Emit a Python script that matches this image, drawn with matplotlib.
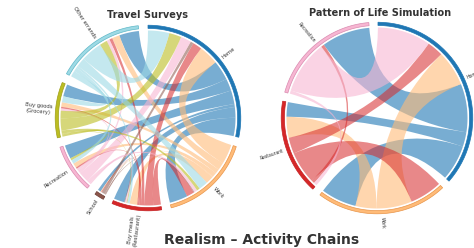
import numpy as np
import matplotlib.pyplot as plt
from matplotlib.path import Path
from matplotlib.patches import PathPatch, Polygon

# ---- Travel surveys (left) ----
ts_names = ['Home', 'Work', 'Buy meals\n(Restaurant)', 'School', 'Recreation',
            'Buy goods\n(Grocery)', 'Other errands']
ts_colors = ['#1f77b4', '#ffbb78', '#d62728', '#8c564b', '#f7b6d2', '#bcbd22', '#9edae5']
ts_edges = ['#1f77b4', '#e8954a', '#c42224', '#6e3f36', '#d98bb0', '#9fa01a', '#5fb8c8']
# flows[src][dst]
ts_flows = np.array([
    [0, 12, 7, 2, 9, 8, 13],
    [13, 0, 5, 0.5, 3, 3, 5],
    [6, 5, 0, 0.5, 1, 1, 2],
    [2, 0.5, 0.5, 0, 0, 0, 0],
    [7, 2, 1, 0, 0, 1.5, 2],
    [8, 2, 0.5, 0, 1.5, 0, 5],
    [14, 6, 1.5, 0, 2.5, 4, 0],
])

# ---- Pattern of life simulation (right) ----
pol_names = ['Home', 'Work', 'Restaurant', 'Recreation']
pol_colors = ['#1f77b4', '#ffbb78', '#d62728', '#f7b6d2']
pol_edges = ['#1f77b4', '#e8954a', '#c42224', '#d98bb0']
pol_flows = np.array([
    [0, 22, 9, 30],
    [22, 0, 13, 0],
    [10, 20, 0, 2],
    [33, 0, 2, 0],
])
# order of ribbon ends along each arc, clockwise ('o' = outgoing, 'i' = incoming)
pol_order = [
    [('i', 3), ('i', 2), ('i', 1), ('o', 3), ('o', 2), ('o', 1)],
    [('i', 2), ('o', 0), ('o', 2), ('i', 0)],
    [('i', 3), ('o', 3), ('o', 1), ('o', 0), ('i', 1), ('i', 0)],
    [('o', 2), ('o', 0), ('i', 2), ('i', 0)],
]

chord_alpha = {'#1f77b4': 0.6, '#ffbb78': 0.6, '#d62728': 0.55, '#8c564b': 0.55,
               '#f7b6d2': 0.6, '#bcbd22': 0.6, '#9edae5': 0.6}


def default_order(n):
    order = []
    for i in range(n):
        ccw = [(i - k) % n for k in range(1, n)]
        if i == 0:
            order.append([('i', j) for j in ccw] + [('o', j) for j in ccw])
        else:
            order.append([('o', j) for j in ccw] + [('i', j) for j in ccw if j != 0] + [('i', 0)])
    return order


def pt(cx, cy, r, a):
    t = np.radians(a)
    return cx + r * np.cos(t), cy - r * np.sin(t)


def arc_pts(cx, cy, r, a0, a1, num=40):
    t = np.linspace(a0, a1, num)
    return [pt(cx, cy, r, a) for a in t]


def chord(ax, cx, cy, r, flows, order, names, colors, edges, start, gap, fs):
    n = len(names)
    tot = flows.sum(axis=1) + flows.sum(axis=0)
    scale = (360 - n * gap) / tot.sum()
    ends = {}
    a = start
    for i in range(n):
        span = tot[i] * scale
        # arc band
        outer = arc_pts(cx, cy, r + 3.8, a, a - span)
        inner = arc_pts(cx, cy, r + 0.6, a - span, a)
        ax.add_patch(Polygon(outer + inner, closed=True, facecolor=colors[i],
                             edgecolor=edges[i], lw=0.5, zorder=3))
        # label
        mid = a - span / 2
        m = mid % 360
        x, y = pt(cx, cy, r + 7, mid)
        if 90 < m < 270:
            ax.text(x, y, names[i], rotation=m - 180, rotation_mode='anchor',
                    ha='right', va='center', fontsize=fs, color='#333333',
                    multialignment='center')
        else:
            ax.text(x, y, names[i], rotation=m if m < 90 else m - 360,
                    rotation_mode='anchor', ha='left', va='center', fontsize=fs,
                    color='#333333', multialignment='center')
        b = a
        for kind, j in order[i]:
            w = (flows[i][j] if kind == 'o' else flows[j][i]) * scale
            if w > 0:
                ends[(kind, i, j)] = (b, b - w)
            b -= w
        a -= span + gap

    rc = r - 1.5
    for i in range(n):
        for j in range(n):
            if flows[i][j] <= 0:
                continue
            s0, s1 = ends[('o', i, j)]
            t0, t1 = ends[('i', j, i)]
            verts = arc_pts(cx, cy, rc, s0, s1)
            codes = [Path.MOVETO] + [Path.LINETO] * (len(verts) - 1)
            verts += [(cx, cy), pt(cx, cy, rc, t0)]
            codes += [Path.CURVE3, Path.CURVE3]
            tv = arc_pts(cx, cy, rc, t0, t1)[1:]
            verts += tv
            codes += [Path.LINETO] * len(tv)
            verts += [(cx, cy), pt(cx, cy, rc, s0)]
            codes += [Path.CURVE3, Path.CURVE3]
            verts.append(verts[0])
            codes.append(Path.CLOSEPOLY)
            ax.add_patch(PathPatch(Path(verts, codes), facecolor=colors[i],
                                   edgecolor='none', alpha=chord_alpha[colors[i]], zorder=2))


fig = plt.figure(figsize=(4.74, 2.48), dpi=100)
ax = fig.add_axes([0, 0, 1, 1])
ax.set_xlim(0, 474)
ax.set_ylim(248, 0)
ax.axis('off')

chord(ax, 148, 118, 89, ts_flows, default_order(len(ts_names)), ts_names,
      ts_colors, ts_edges, 90, 6, 3.8)
chord(ax, 377, 118, 92, pol_flows, pol_order, pol_names,
      pol_colors, pol_edges, 89.4, 5.5, 3.3)

ax.text(148, 15, 'Travel Surveys', ha='center', va='center', fontsize=7,
        fontweight='bold', color='#333333')
ax.text(380, 13, 'Pattern of Life Simulation', ha='center', va='center', fontsize=7,
        fontweight='bold', color='#333333')
ax.text(262, 240, 'Realism \u2013 Activity Chains', ha='center', va='center',
        fontsize=10, fontweight='bold', color='#333333')

fig.savefig('out.png', dpi=100)
